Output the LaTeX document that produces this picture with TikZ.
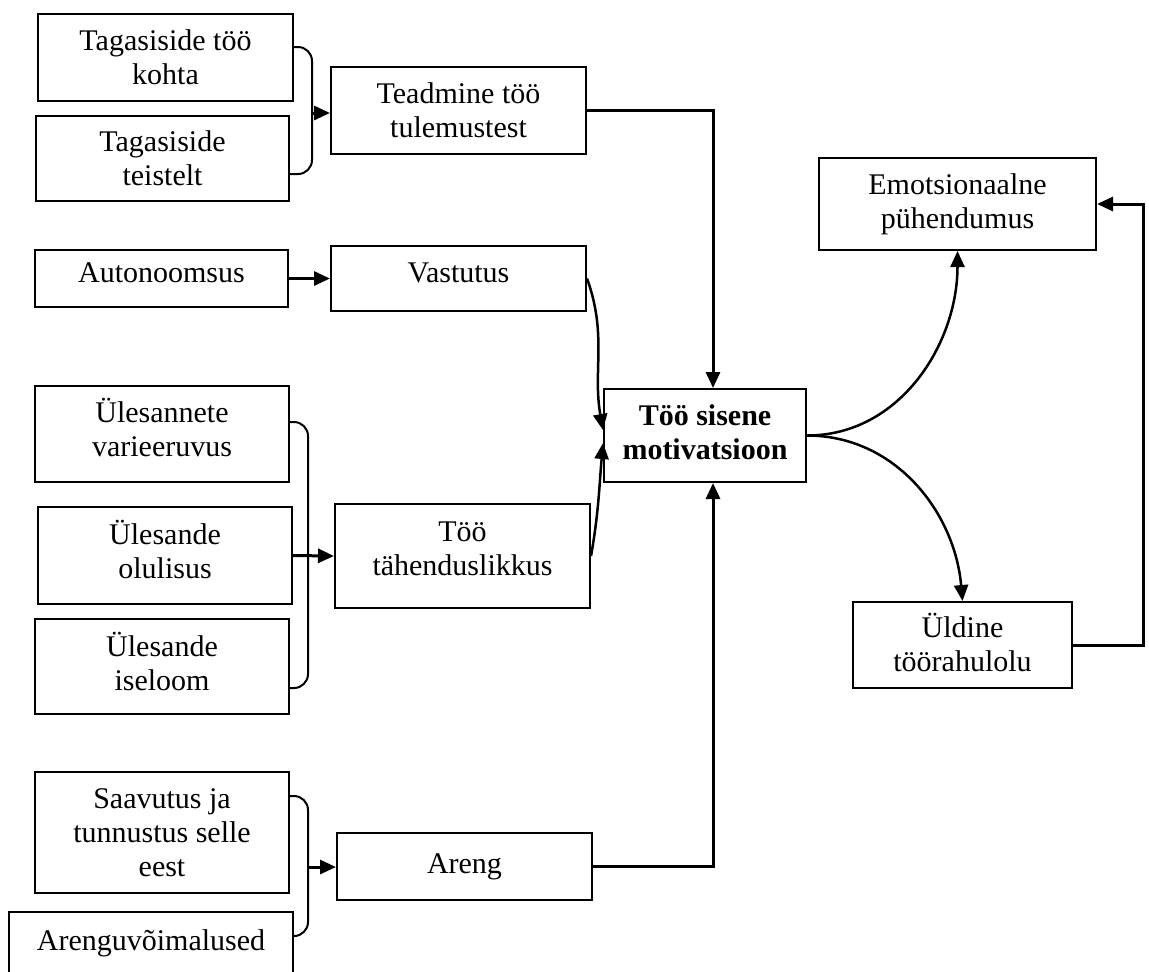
\documentclass[tikz,border=0pt]{standalone}
\usepackage{fontspec}
\setmainfont{Liberation Serif}
\usetikzlibrary{arrows.meta}
% extra depth under the last line, which lifts the text inside its box
\newcommand\liftby[1]{\rule[-#1]{0pt}{#1}}

\begin{document}
\begin{tikzpicture}[x=0.5pt,y=-0.5pt,
  box/.style={draw,line width=1pt,inner sep=0pt,align=center,
    font=\fontsize{15}{17}\selectfont},
  conn/.style={line width=1.5pt,-{Triangle[length=8pt,width=7pt]}},
  curv/.style={line width=1.25pt,-{Triangle[length=8pt,width=7pt]}},
  brace/.style={line width=1pt,rounded corners=7pt},
]
\useasboundingbox (0,0) rectangle (1149,971);
\clip (0,0) rectangle (1149,971);

% left column: source factors
\node[box,minimum width=127.5pt,minimum height=43.5pt] (fb1) at (165.5,57.5) {Tagasiside töö\\kohta};
\node[box,minimum width=126.5pt,minimum height=42.5pt] (fb2) at (162.5,158.5) {Tagasiside\\teistelt};
\node[box,minimum width=126.5pt,minimum height=28.5pt] (aut) at (161.5,278.5) {Autonoomsus\liftby{5.7pt}};
\node[box,minimum width=127pt,minimum height=48pt] (var) at (162,434) {Ülesannete\\varieeruvus\liftby{6.5pt}};
\node[box,minimum width=127pt,minimum height=48.5pt] (olu) at (165,555.5) {Ülesande\\olulisus\liftby{6pt}};
\node[box,minimum width=127pt,minimum height=47.5pt] (ise) at (162,666.5) {Ülesande\\iseloom\liftby{5.5pt}};
\node[box,minimum width=127pt,minimum height=60.5pt] (saa) at (162,832.5) {Saavutus ja\\tunnustus selle\\eest};
\node[box,minimum width=142pt,minimum height=31pt] (avv) at (151,943) {Arenguvõimalused};

% middle column: job characteristics
\node[box,minimum width=127.5pt,minimum height=43.5pt] (tea) at (458.5,110.5) {Teadmine töö\\tulemustest};
\node[box,minimum width=127.5pt,minimum height=32.5pt] (vas) at (458.5,278.5) {Vastutus\liftby{5.7pt}};
\node[box,minimum width=127.5pt,minimum height=52pt] (tah) at (462.5,556) {Töö\\tähenduslikkus\liftby{7.5pt}};
\node[box,minimum width=127.5pt,minimum height=33.5pt] (are) at (464.5,866.5) {Areng};

% centre and outcomes
\node[box,minimum width=101pt,minimum height=46.5pt,font=\fontsize{15}{17}\selectfont\bfseries] (mot) at (705,435.5) {Töö sisene\\motivatsioon\liftby{3.5pt}};
\node[box,minimum width=138.5pt,minimum height=46pt] (emo) at (957.5,204) {Emotsionaalne\\pühendumus};
\node[box,minimum width=109.5pt,minimum height=43pt] (rah) at (962.5,645) {Üldine\\töörahulolu\liftby{2.75pt}};

% junction points of the brackets
\coordinate (j1) at (312,113);
\coordinate (j2) at (308,556);
\coordinate (j3) at (308,867);
\coordinate (fbk) at (1143,400);

% brackets joining grouped factors
\draw[brace] ([yshift=-17pt]fb1.north east) -| (j1) |- ([yshift=14pt]fb2.south east);
\draw[brace] ([yshift=-18.5pt]var.north east) -| (j2) |- ([yshift=13.5pt]ise.south east);
\draw[brace] ([yshift=-12.5pt]saa.north east) -| (j3) |- ([yshift=-12.5pt]avv.north east);

\draw[conn] (j1) -- (j1 -| tea.west);
\draw[conn] (aut.east) -- (vas.west);
\draw[conn] (olu.east) -- (tah.west);
\draw[conn] (j3) -- (j3 -| are.west);

% into the central node
\draw[conn] (tea.east) -| ([xshift=4pt]mot.north);
\draw[conn] (are.east) -| ([xshift=4pt]mot.south);
\draw[curv] (vas.east) to[out=-70,in=100] ([yshift=2.75pt]mot.west);
\draw[curv] (tah.east) to[out=80,in=-95] ([yshift=-3.75pt]mot.west);

% outcomes
\draw[curv] (mot.east) to[out=0,in=-90] (emo.south);
\draw[curv] (mot.east) to[out=0,in=95] (rah.north);
\draw[conn] (rah.east) -| (fbk) |- (emo.east);
\end{tikzpicture}
\end{document}
